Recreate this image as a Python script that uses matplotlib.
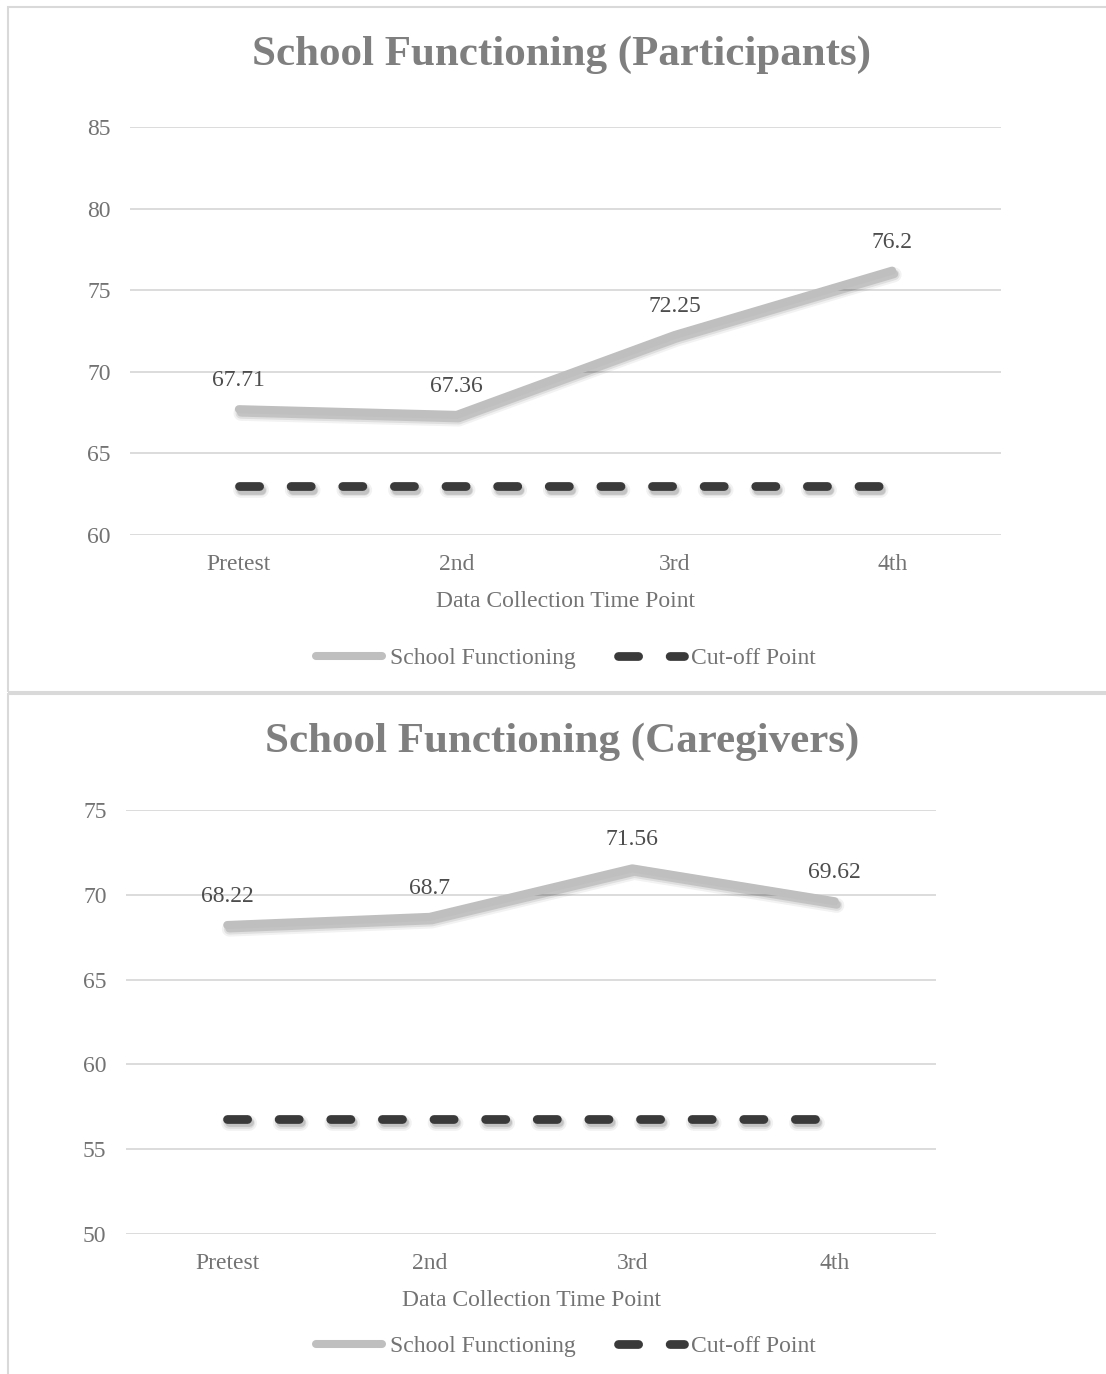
import matplotlib
matplotlib.use("Agg")
import matplotlib.pyplot as plt
import matplotlib.patheffects as pe
from matplotlib.lines import Line2D
from matplotlib.patches import Rectangle

plt.rcParams['font.family'] = ['Liberation Serif', 'DejaVu Serif']

# data
time_points = ["Pretest", "2nd", "3rd", "4th"]
participants = [67.71, 67.36, 72.25, 76.2]
participants_cutoff = [63, 63, 63, 63]
caregivers = [68.22, 68.7, 71.56, 69.62]
caregivers_cutoff = [56.8, 56.8, 56.8, 56.8]

W, H = 1106, 1374
fig = plt.figure(figsize=(W / 100, H / 100), dpi=100)

SERIES_C = "#bfbfbf"
CUT_C = "#3a3a3a"
GRID_C = "#d9d9d9"
TICK_C = "#737373"
LABEL_C = "#4d4d4d"
TITLE_C = "#7f7f7f"
FS = 17
DASH = (2.3, 3.6)


def px_box(left, top, right, bottom):
    return [left / W, 1 - bottom / H, (right - left) / W, (bottom - top) / H]


def shadow(lw):
    # soft drop shadow built from a few offset layers
    return [pe.SimpleLineShadow(offset=(1.5, -3), shadow_color="k", alpha=0.05, linewidth=lw + 5),
            pe.SimpleLineShadow(offset=(1.5, -3), shadow_color="k", alpha=0.08, linewidth=lw + 2),
            pe.SimpleLineShadow(offset=(1.5, -2.5), shadow_color="k", alpha=0.12, linewidth=lw),
            pe.Normal()]


def draw_chart(box, title, title_y, values, cutoff, yticks, legend_y):
    ax = fig.add_axes(px_box(*box))
    x = list(range(len(time_points)))
    ax.plot(x, values, color=SERIES_C, lw=5.8, solid_capstyle="round",
            solid_joinstyle="round", path_effects=shadow(5.8), zorder=3)
    ax.plot(x, cutoff, color=CUT_C, lw=6.3, dashes=DASH, dash_capstyle="round",
            path_effects=shadow(6.3), zorder=3)
    for xi, v in zip(x, values):
        ax.annotate(f"{v:g}", (xi, v), xytext=(0, 20.5), textcoords="offset points",
                    ha="center", va="center", fontsize=FS, color=LABEL_C)
    ax.set_xlim(-0.5, len(time_points) - 0.5)
    ax.set_ylim(yticks[0], yticks[-1])
    ax.set_yticks(yticks)
    ax.set_xticks(x)
    ax.set_xticklabels(time_points)
    ax.tick_params(length=0, labelsize=FS, colors=TICK_C)
    ax.tick_params(axis="y", pad=14)
    ax.tick_params(axis="x", pad=14)
    ax.yaxis.grid(True, color=GRID_C, lw=1.3)
    ax.set_axisbelow(True)
    for s in ax.spines.values():
        s.set_visible(False)
    ax.set_xlabel("Data Collection Time Point", fontsize=FS, color=TICK_C, labelpad=11.5)
    fig.text(562 / W, 1 - title_y / H, title, ha="center", va="center",
             fontsize=31, fontweight="bold", color=TITLE_C)
    handles = [Line2D([], [], color=SERIES_C, lw=5.8, solid_capstyle="round"),
               Line2D([], [], color=CUT_C, lw=6.3, dashes=DASH, dash_capstyle="round")]
    fig.legend(handles, ["School Functioning", "Cut-off Point"], loc="center",
               bbox_to_anchor=(566 / W, 1 - legend_y / H), ncol=2, frameon=False,
               fontsize=FS, labelcolor=TICK_C, handlelength=2.8, handletextpad=0.3,
               columnspacing=1.8)
    return ax


draw_chart((130, 127, 1001, 535), "School Functioning (Participants)", 55,
           participants, participants_cutoff, [60, 65, 70, 75, 80, 85], 658)
draw_chart((126, 810, 936, 1234), "School Functioning (Caregivers)", 742,
           caregivers, caregivers_cutoff, [50, 55, 60, 65, 70, 75], 1346)

# chart area borders
for top, bottom in [(7, 692), (694, 1380)]:
    fig.patches.append(Rectangle((8 / W, 1 - bottom / H), 1.2, (bottom - top) / H,
                                 transform=fig.transFigure, fill=False,
                                 edgecolor="#d9d9d9", lw=1.5))

fig.savefig("out.png", dpi=100)
